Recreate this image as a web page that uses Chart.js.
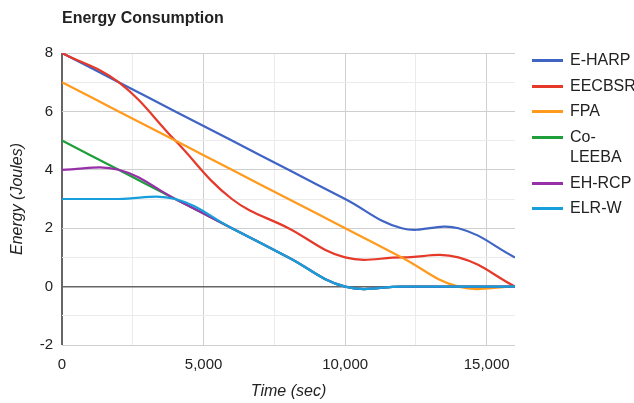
<!DOCTYPE html>
<html>
<head>
<meta charset="utf-8">
<title>Energy Consumption</title>
<script src="https://cdn.jsdelivr.net/npm/chart.js"></script>
<style>
    html, body {
        margin: 0;
        padding: 0;
        background: #fff;
    }
    .chart-wrap {
        position: relative;
        width: 634px;
        height: 403px;
        font-family: Arial, "Liberation Sans", sans-serif;
        color: #222;
    }
    .chart-title {
        position: absolute;
        left: 62px;
        top: 9px;
        font-size: 16px;
        font-weight: bold;
        line-height: 18px;
    }
    .legend {
        position: absolute;
        left: 532px;
        top: 50px;
        margin: 0;
        padding: 0;
        list-style: none;
    }
    .legend li {
        position: relative;
        padding-left: 38px;
        margin-bottom: 5.7px;
        font-size: 16px;
        line-height: 20px;
        white-space: pre;
    }
    .legend .swatch {
        position: absolute;
        left: 0;
        top: 9px;
        width: 31px;
        height: 3px;
    }
</style>
</head>
<body>
<div class="chart-wrap">
    <canvas id="energyChart" width="634" height="403"></canvas>
    <div class="chart-title">Energy Consumption</div>
    <ul class="legend" id="legend"></ul>
</div>
<script>
// Time axis (sec) shared by every series
const timeSec = [0, 2000, 4000, 6000, 8000, 10000, 12000, 14000, 16000];

// Remaining energy (Joules) per protocol
const eHarp   = [8, 7, 6, 5, 4, 3, 2, 2, 1];
const eecbsr  = [8, 7, 5, 3, 2, 1, 1, 1, 0];
const fpa     = [7, 6, 5, 4, 3, 2, 1, 0, 0];
const coLeeba = [5, 4, 3, 2, 1, 0, 0, 0, 0];
const ehRcp   = [4, 4, 3, 2, 1, 0, 0, 0, 0];
const elrW    = [3, 3, 3, 2, 1, 0, 0, 0, 0];

const seriesNames  = ['E-HARP', 'EECBSR', 'FPA', 'Co-LEEBA', 'EH-RCP', 'ELR-W'];
const seriesValues = [eHarp, eecbsr, fpa, coLeeba, ehRcp, elrW];
const seriesColors = ['#3f64c4', '#e5392a', '#ff9a1c', '#1f9e3c', '#962fa8', '#169fdc'];

// Axis ticks (labelled) and grid positions
const yTicks = [-2, 0, 2, 4, 6, 8];
const xTicks = [0, 5000, 10000, 15000];
const xGrid  = [0, 2500, 5000, 7500, 10000, 12500, 15000];

document.addEventListener('DOMContentLoaded', () => {
    initChart();
    initLegend();
});

/**
 * Build the line chart
 */
function initChart() {
    const ctx = document.getElementById('energyChart').getContext('2d');
    const font = { family: 'Arial, "Liberation Sans", sans-serif' };

    const datasets = seriesNames.map((name, i) => ({
        label: name,
        data: timeSec.map((t, j) => ({ x: t, y: seriesValues[i][j] })),
        borderColor: seriesColors[i],
        backgroundColor: seriesColors[i],
        borderWidth: 2.2,
        pointRadius: 0,
        tension: 0.4,
        fill: false,
        order: seriesNames.length - i // later series drawn on top
    }));

    new Chart(ctx, {
        type: 'line',
        data: { datasets },
        options: {
            responsive: false,
            animation: false,
            layout: {
                padding: { left: 0, top: 53, right: 119, bottom: 0 }
            },
            plugins: {
                legend: { display: false },
                tooltip: { enabled: false }
            },
            scales: {
                x: {
                    type: 'linear',
                    min: 0,
                    max: 16000,
                    afterBuildTicks: scale => {
                        scale.ticks = xGrid.map(v => ({ value: v }));
                    },
                    ticks: {
                        padding: 11,
                        maxRotation: 0,
                        autoSkip: false,
                        color: '#222',
                        font: { ...font, size: 15 },
                        callback: v => xTicks.includes(v) ? v.toLocaleString('en-US') : ''
                    },
                    grid: {
                        drawTicks: false,
                        lineWidth: ctx => ctx.tick && ctx.tick.value === 0 ? 2 : 1,
                        color: ctx => {
                            const v = ctx.tick ? ctx.tick.value : null;
                            if (v === 0) return '#666';
                            return v % 5000 === 0 ? '#cfcfcf' : '#ebebeb';
                        }
                    },
                    border: { display: false },
                    title: {
                        display: true,
                        text: 'Time (sec)',
                        color: '#222',
                        font: { ...font, size: 16, style: 'italic' },
                        padding: { top: 0, bottom: 2 }
                    },
                    afterFit: scale => { scale.height = 58; }
                },
                y: {
                    min: -2,
                    max: 8,
                    ticks: {
                        stepSize: 1,
                        padding: 9,
                        color: '#222',
                        font: { ...font, size: 15 },
                        callback: v => yTicks.includes(v) ? v : ''
                    },
                    grid: {
                        drawTicks: false,
                        lineWidth: ctx => ctx.tick && ctx.tick.value === 0 ? 1.6 : 1,
                        color: ctx => {
                            const v = ctx.tick ? ctx.tick.value : null;
                            if (v === 0) return '#666';
                            return v % 2 === 0 ? '#cfcfcf' : '#ebebeb';
                        }
                    },
                    border: { display: false },
                    title: {
                        display: true,
                        text: 'Energy (Joules)',
                        color: '#222',
                        font: { ...font, size: 16, style: 'italic' },
                        padding: { top: 8, bottom: 0 }
                    },
                    afterFit: scale => { scale.width = 62; }
                }
            }
        }
    });
}

/**
 * Build the legend on the right of the plot
 */
function initLegend() {
    const legend = document.getElementById('legend');
    seriesNames.forEach((name, i) => {
        const item = document.createElement('li');
        const swatch = document.createElement('span');
        swatch.className = 'swatch';
        swatch.style.background = seriesColors[i];
        item.appendChild(swatch);
        // the reference wraps this long name after its hyphen
        item.appendChild(document.createTextNode(name === 'Co-LEEBA' ? 'Co-\nLEEBA' : name));
        legend.appendChild(item);
    });
}
</script>
</body>
</html>
